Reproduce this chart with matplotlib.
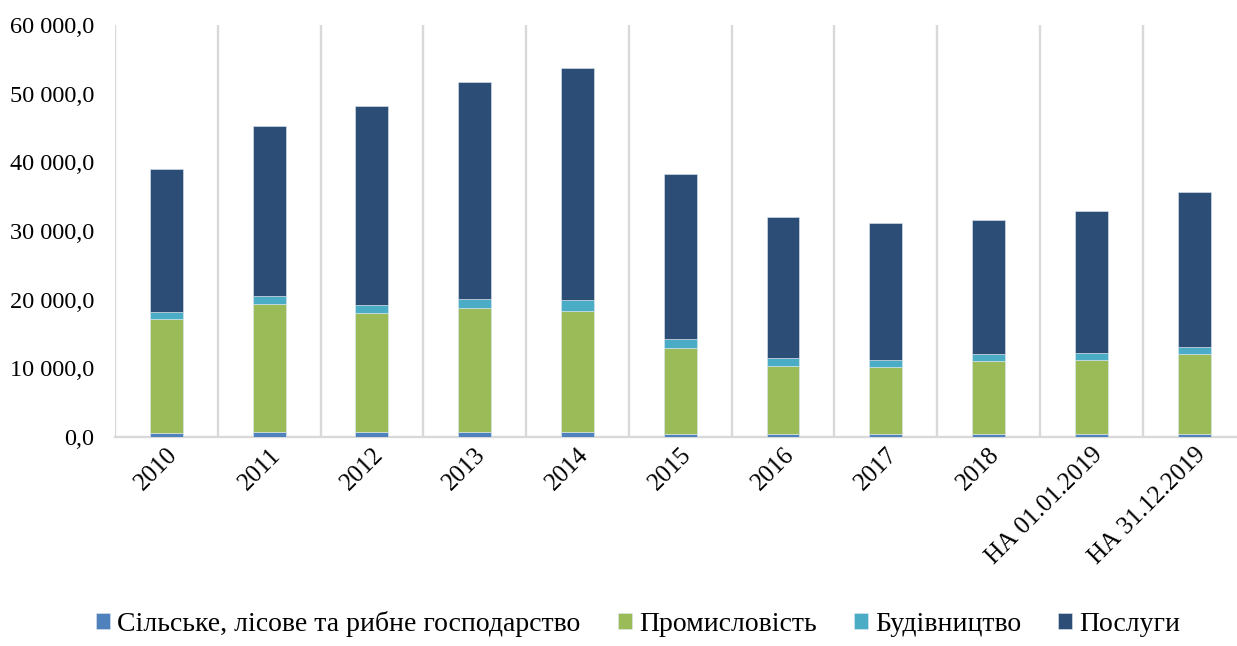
import matplotlib
matplotlib.use("Agg")
import matplotlib.pyplot as plt
from matplotlib.ticker import FuncFormatter, MultipleLocator, FixedLocator
import numpy as np

categories = ["2010", "2011", "2012", "2013", "2014", "2015", "2016", "2017", "2018",
              "НА 01.01.2019", "НА 31.12.2019"]
agriculture = [550, 680, 680, 680, 730, 490, 390, 490, 490, 390, 490]
industry = [16590, 18685, 17370, 18060, 17660, 12520, 9900, 9650, 10580, 10770, 11600]
construction = [1020, 1165, 1125, 1350, 1560, 1260, 1160, 1070, 970, 1020, 1020]
services = [20860, 24800, 29025, 31600, 33740, 24070, 20590, 20000, 19510, 20690, 22610]

series_names = ["Сільське, лісове та рибне господарство", "Промисловість", "Будівництво", "Послуги"]
colors = ["#4F81BD", "#9BBB59", "#4BACC6", "#2C4D75"]

plt.rcParams['font.family'] = ['Liberation Serif', 'DejaVu Serif']

fig = plt.figure(figsize=(12.37, 6.46), dpi=100)
ax = fig.add_axes([115 / 1237, 1 - 437 / 646, (1245.5 - 115) / 1237, (437 - 25) / 646])

x = np.arange(len(categories))
bottom = np.zeros(len(categories))
for vals, name, col in zip([agriculture, industry, construction, services], series_names, colors):
    ax.bar(x, vals, width=0.32, bottom=bottom, color=col, label=name,
           edgecolor="#dfe8f0", linewidth=0.4, zorder=3)
    bottom += np.array(vals)

ax.set_xlim(-0.5, len(categories) - 0.5)
ax.set_ylim(0, 60000)
ax.yaxis.set_major_locator(MultipleLocator(10000))
ax.yaxis.set_major_formatter(FuncFormatter(lambda v, p: f"{int(v):,}".replace(",", " ") + ",0"))

ax.set_xticks(x)
ax.set_xticklabels(categories, rotation=45, ha="right", rotation_mode="anchor", fontsize=18)
ax.xaxis.set_minor_locator(FixedLocator(np.arange(-0.5, len(categories), 1.0)))
ax.grid(axis="x", which="minor", color="#d9d9d9", linewidth=1.7, zorder=0)
ax.grid(axis="x", which="major", visible=False)
ax.tick_params(axis="x", which="both", length=0, pad=5)
ax.tick_params(axis="y", length=0, labelsize=17.5, pad=15)

for s in ["top", "right", "left"]:
    ax.spines[s].set_visible(False)
ax.spines["bottom"].set_color("#d9d9d9")
ax.spines["bottom"].set_linewidth(1.7)

leg = fig.legend(loc="lower center", bbox_to_anchor=(0.516, -0.025), ncol=4, frameon=False,
                 fontsize=20, handlelength=0.5, handleheight=0.5, handletextpad=0.25,
                 columnspacing=1.35)

fig.savefig("out.png", dpi=100)
